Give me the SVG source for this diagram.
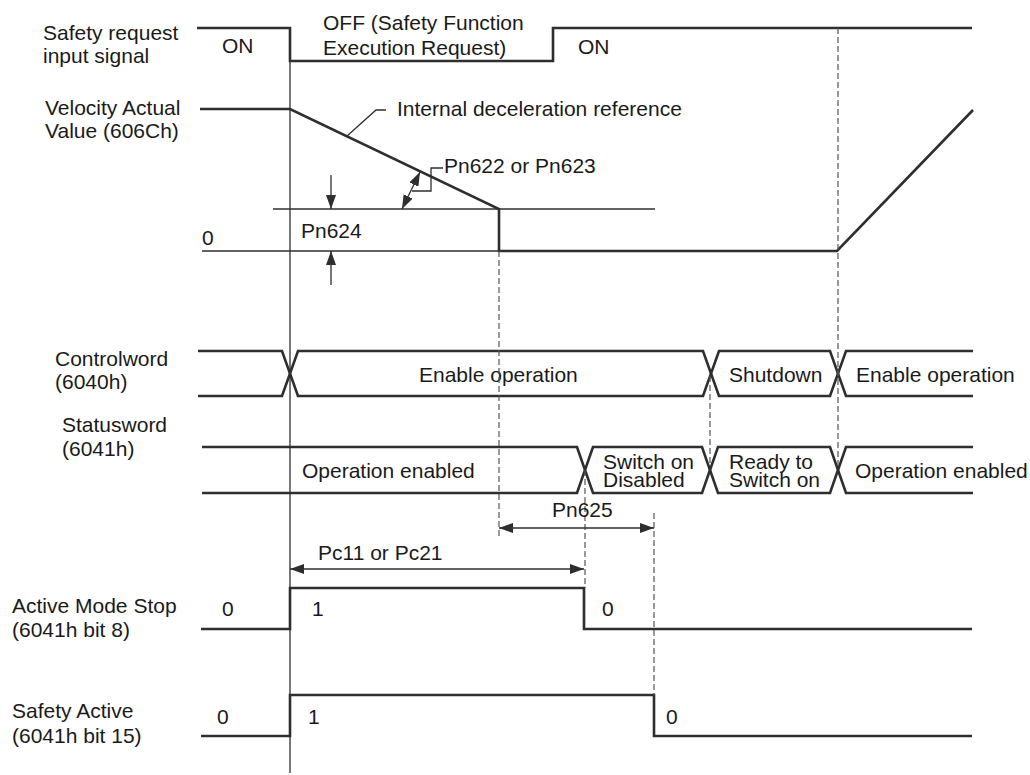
<svg xmlns="http://www.w3.org/2000/svg" width="1030" height="775" viewBox="0 0 1030 775">
<style>
text{font-family:"Liberation Sans",Arial,sans-serif;font-size:21px;fill:#1a1a1a}
.sig{fill:none;stroke:#2e2e2e;stroke-width:2.6;stroke-linejoin:miter}
.thin{fill:none;stroke:#2e2e2e;stroke-width:1.3}
.dash{fill:none;stroke:#555;stroke-width:1.2;stroke-dasharray:6 3}
.dim{fill:none;stroke:#2e2e2e;stroke-width:1.3}
</style>
<defs>
<marker id="ah" viewBox="0 0 14 10" refX="14" refY="5" markerWidth="14" markerHeight="10" markerUnits="userSpaceOnUse" orient="auto-start-reverse">
<path d="M0,0 L14,5 L0,10 z" fill="#2e2e2e"/>
</marker>
</defs>
<rect width="1030" height="775" fill="#fff"/>

<g id="time-axis">
<line class="thin" x1="290" y1="28" x2="290" y2="773"/>
</g>

<g id="safety-request">
<text x="43" y="40">Safety request</text>
<text x="43" y="63">input signal</text>
<path class="sig" d="M197,28 H290 V61 H553 V28 H972"/>
<text x="222" y="53">ON</text>
<text x="323" y="30">OFF (Safety Function</text>
<text x="323" y="55">Execution Request)</text>
<text x="578" y="54">ON</text>
</g>

<g id="velocity">
<text x="45" y="115">Velocity Actual</text>
<text x="45" y="138">Value (606Ch)</text>
<line class="thin" x1="273" y1="209" x2="655" y2="209"/>
<line class="thin" x1="202" y1="251" x2="499" y2="251"/>
<path class="sig" d="M200,109 H290 L499,209 V251 H837 L973,110"/>
<text x="202" y="245">0</text>
<text x="301" y="238">Pn624</text>
<text x="397" y="116">Internal deceleration reference</text>
<text x="444" y="173">Pn622 or Pn623</text>
</g>

<g id="controlword">
<text x="55" y="366">Controlword</text>
<text x="55" y="389">(6040h)</text>
<path class="sig" d="M198,351 H282 L298,396 H703 L719,351 H830 L846,396 H973"/>
<path class="sig" d="M198,396 H282 L298,351 H703 L719,396 H830 L846,351 H973"/>
<text x="419" y="382">Enable operation</text>
<text x="729" y="382">Shutdown</text>
<text x="856" y="382">Enable operation</text>
</g>

<g id="statusword">
<text x="62" y="432">Statusword</text>
<text x="62" y="456">(6041h)</text>
<path class="sig" d="M202,447 H577 L593,493 H702 L718,447 H830 L846,493 H973"/>
<path class="sig" d="M202,493 H577 L593,447 H702 L718,493 H830 L846,447 H973"/>
<text x="302" y="478">Operation enabled</text>
<text x="603" y="469">Switch on</text>
<text x="603" y="487">Disabled</text>
<text x="729" y="469">Ready to</text>
<text x="729" y="487">Switch on</text>
<text x="855" y="478">Operation enabled</text>
</g>

<g id="active-mode-stop">
<text x="12" y="613">Active Mode Stop</text>
<text x="12" y="637">(6041h bit 8)</text>
<path class="sig" d="M201,629 H290 V588 H584 V629 H972"/>
<text x="222" y="616">0</text>
<text x="312" y="616">1</text>
<text x="602" y="616">0</text>
</g>

<g id="safety-active">
<text x="12" y="718">Safety Active</text>
<text x="12" y="743">(6041h bit 15)</text>
<path class="sig" d="M201,736 H290 V695 H654 V736 H972"/>
<text x="217" y="724">0</text>
<text x="308" y="724">1</text>
<text x="666" y="724">0</text>
</g>

<g id="connectors">
<line class="dash" x1="838" y1="28" x2="838" y2="466"/>
<line class="dash" x1="710" y1="376" x2="710" y2="466"/>
<line class="dash" x1="585" y1="470" x2="585" y2="588"/>
<line class="dash" x1="499" y1="251" x2="499" y2="538"/>
<line class="dash" x1="654" y1="513" x2="654" y2="695"/>
<line class="dim" x1="331" y1="175" x2="331" y2="209" marker-end="url(#ah)"/>
<line class="dim" x1="331" y1="285" x2="331" y2="251" marker-end="url(#ah)"/>
<path class="dim" d="M347,136 L376,110 H386"/>
<path class="dim" d="M443,168 H431 V191 H412"/>
<line class="dim" x1="420" y1="172" x2="402" y2="209" marker-start="url(#ah)" marker-end="url(#ah)"/>
<line class="dim" x1="499" y1="528" x2="654" y2="528" marker-start="url(#ah)" marker-end="url(#ah)"/>
<text x="552" y="517">Pn625</text>
<line class="dim" x1="290" y1="569" x2="584" y2="569" marker-start="url(#ah)" marker-end="url(#ah)"/>
<text x="318" y="560">Pc11 or Pc21</text>
</g>
</svg>
